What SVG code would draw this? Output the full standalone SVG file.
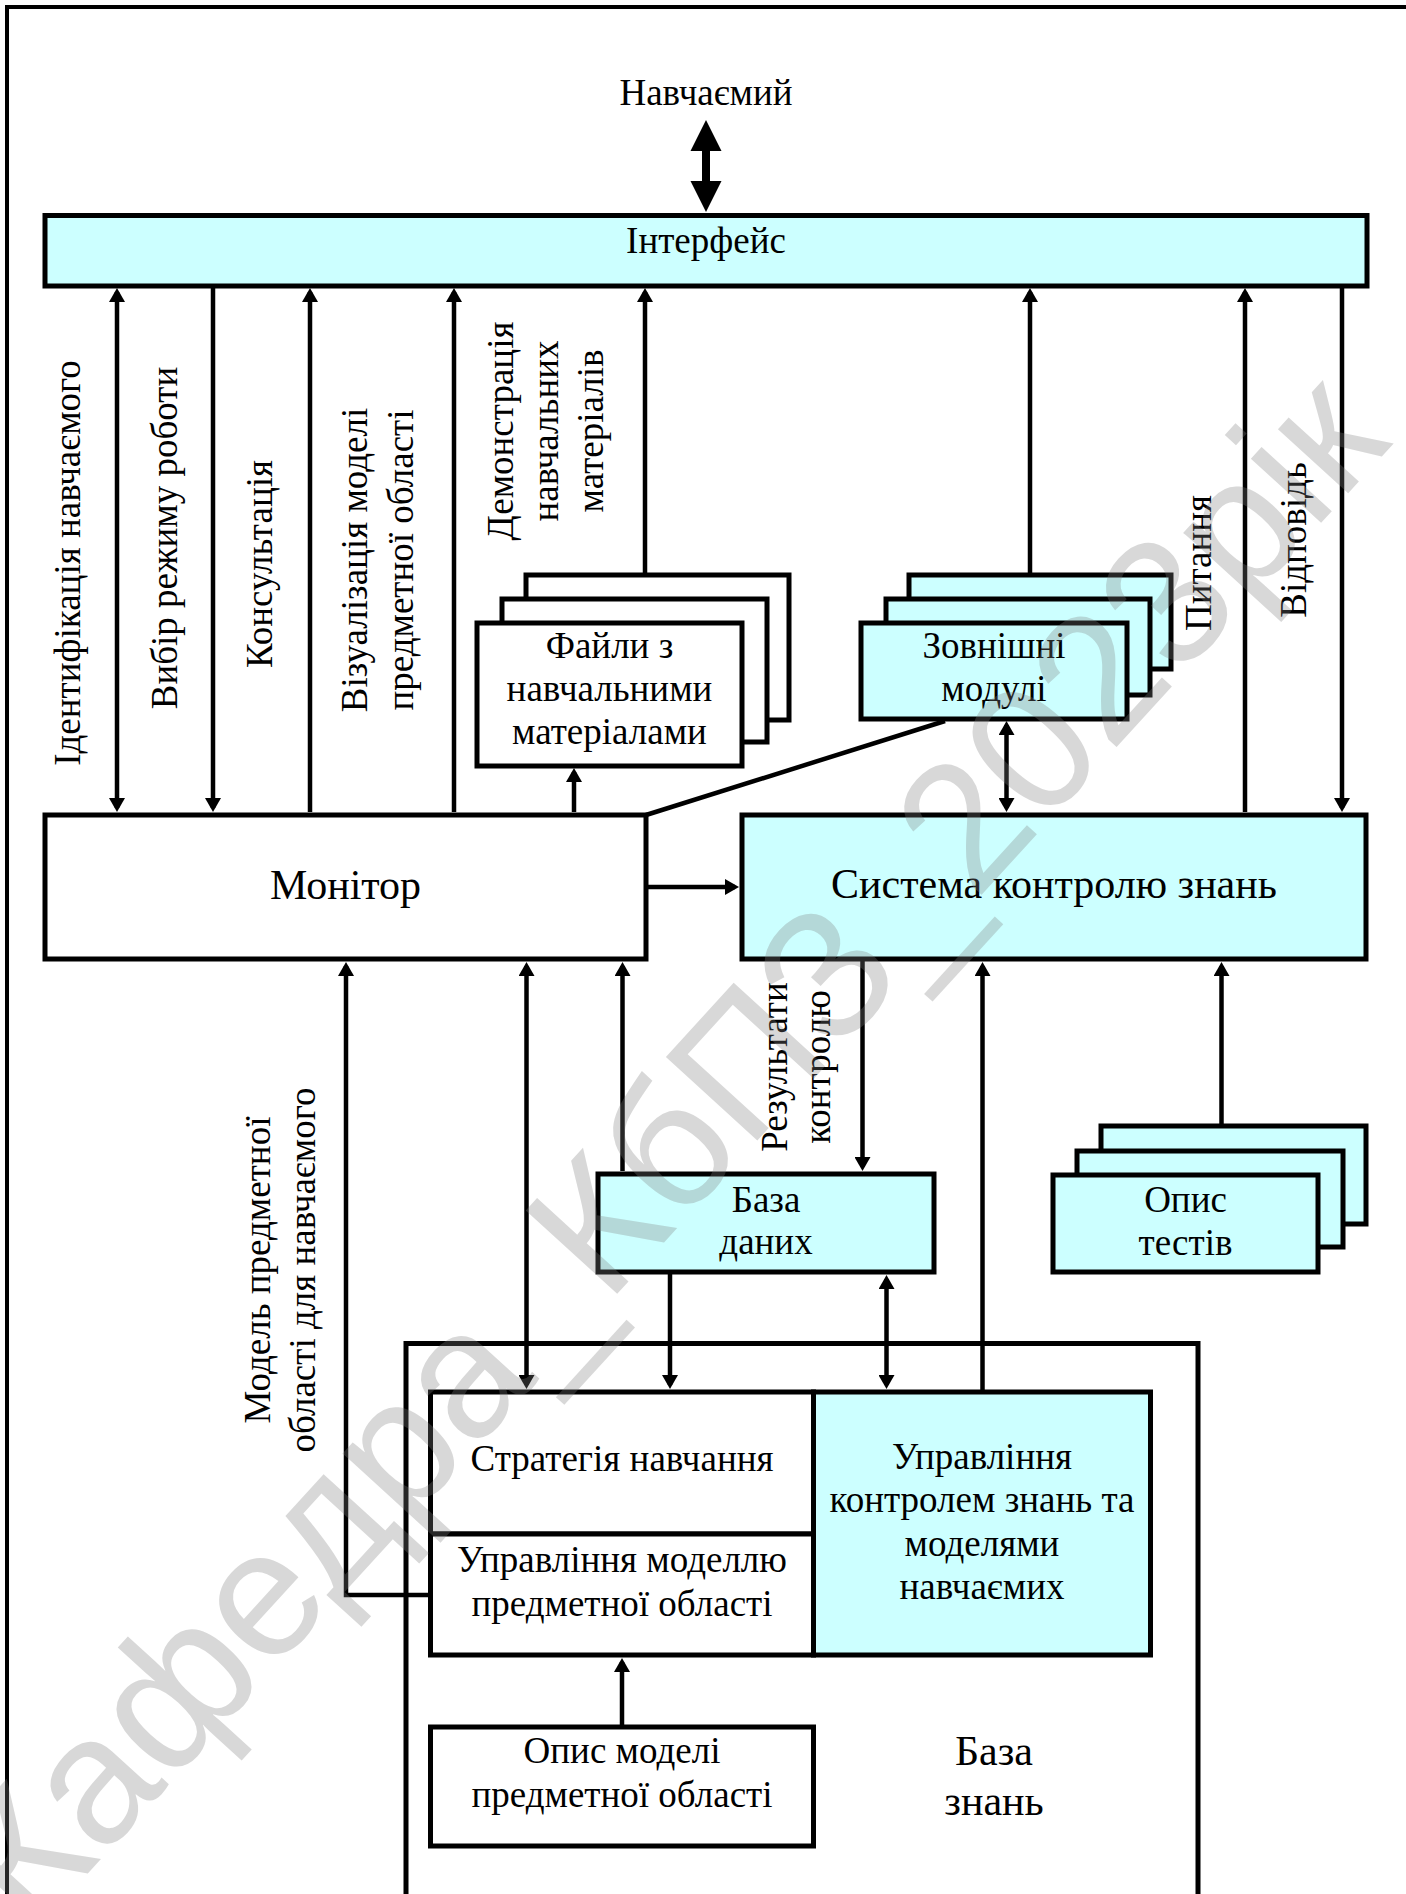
<svg xmlns="http://www.w3.org/2000/svg" width="1406" height="1894" viewBox="0 0 1406 1894">
<style>
.t{font-family:"Liberation Serif","Times New Roman",serif;font-size:37px;fill:#000;text-anchor:middle}
.big{font-size:42px}
.box{fill:#fff;stroke:#000;stroke-width:5}
.cy{fill:#ccffff;stroke:#000;stroke-width:5}
.ln{fill:none;stroke:#000;stroke-width:4.5}
.wm{font-family:"Liberation Sans",Arial,sans-serif;font-size:180px;fill:#808080;opacity:0.3;text-anchor:middle}
</style>
<defs>
<marker id="ah" markerUnits="userSpaceOnUse" markerWidth="16" markerHeight="16" viewBox="0 0 14 16" refX="10" refY="8" orient="auto-start-reverse">
<path d="M0,0 L14,8 L0,16 Z" fill="#000"/>
</marker>
</defs>
<rect width="1406" height="1894" fill="#fff"/>
<path d="M7,1894 V7 H1406" fill="none" stroke="#000" stroke-width="4"/>

<g id="learner"><text class="t" x="706" y="105">Навчаємий</text></g>
<g id="interface"><rect class="cy" x="45" y="215.5" width="1322" height="70.5"/><text class="t" x="706" y="253">Інтерфейс</text></g>
<g id="monitor"><rect class="box" x="45" y="815" width="601" height="144"/><text class="t big" x="345.5" y="899">Монітор</text></g>
<g id="skz"><rect class="cy" x="742" y="815" width="624" height="144"/><text class="t big" x="1054" y="898">Система контролю знань</text></g>
<g id="files">
<rect class="box" x="526" y="575" width="263" height="145"/>
<rect class="box" x="502" y="599" width="265" height="143"/>
<rect class="box" x="477" y="623" width="265" height="143"/>
<text class="t" x="609.5" y="658">Файли з</text>
<text class="t" x="609.5" y="701">навчальними</text>
<text class="t" x="609.5" y="744">матеріалами</text>
</g>
<g id="modules">
<rect class="cy" x="909" y="575" width="262" height="94"/>
<rect class="cy" x="886" y="599" width="264" height="96"/>
<rect class="cy" x="861" y="623" width="266" height="96"/>
<text class="t" x="994" y="658">Зовнішні</text>
<text class="t" x="994" y="701">модулі</text>
</g>
<g id="db"><rect class="cy" x="598" y="1174" width="336" height="98"/><text class="t" x="766" y="1212">База</text><text class="t" x="766" y="1254">даних</text></g>
<g id="tests">
<rect class="cy" x="1101" y="1126" width="265" height="98"/>
<rect class="cy" x="1077" y="1151" width="266" height="96"/>
<rect class="cy" x="1053" y="1175" width="265" height="97"/>
<text class="t" x="1185.5" y="1212">Опис</text>
<text class="t" x="1185.5" y="1255">тестів</text>
</g>
<g id="kb">
<rect x="406" y="1343.5" width="792" height="600" fill="none" stroke="#000" stroke-width="5"/>
<text class="t big" x="994" y="1765">База</text>
<text class="t big" x="994" y="1815">знань</text>
</g>
<g id="control"><rect class="cy" x="813.5" y="1392" width="337" height="263"/>
<text class="t" x="982" y="1469">Управління</text>
<text class="t" x="982" y="1512">контролем знань та</text>
<text class="t" x="982" y="1556">моделями</text>
<text class="t" x="982" y="1599">навчаємих</text>
</g>
<g id="strategy"><rect class="box" x="430.5" y="1392" width="383" height="142"/><text class="t" x="622" y="1471">Стратегія навчання</text></g>
<g id="modelmgmt"><rect class="box" x="430.5" y="1534" width="383" height="121"/><text class="t" x="622" y="1572">Управління моделлю</text><text class="t" x="622" y="1616">предметної області</text></g>
<g id="modeldesc"><rect class="box" x="430.5" y="1727" width="383" height="119"/><text class="t" x="622" y="1763">Опис моделі</text><text class="t" x="622" y="1807">предметної області</text></g>

<g id="connectors">
<polygon points="706,120 721.5,151 710,151 710,181 721.5,181 706,212 690.5,181 702,181 702,151 690.5,151" fill="#000"/>
<line class="ln" x1="117" y1="292" x2="117" y2="808" marker-start="url(#ah)" marker-end="url(#ah)"/>
<line class="ln" x1="213" y1="288" x2="213" y2="808" marker-end="url(#ah)"/>
<line class="ln" x1="310" y1="812" x2="310" y2="292" marker-end="url(#ah)"/>
<line class="ln" x1="454" y1="812" x2="454" y2="292" marker-end="url(#ah)"/>
<line class="ln" x1="645" y1="573" x2="645" y2="292" marker-end="url(#ah)"/>
<line class="ln" x1="1030" y1="573" x2="1030" y2="292" marker-end="url(#ah)"/>
<line class="ln" x1="1245" y1="812" x2="1245" y2="292" marker-end="url(#ah)"/>
<line class="ln" x1="1342" y1="288" x2="1342" y2="808" marker-end="url(#ah)"/>
<line class="ln" x1="574" y1="812" x2="574" y2="772" marker-end="url(#ah)"/>
<line class="ln" x1="1006.5" y1="725" x2="1006.5" y2="808" marker-start="url(#ah)" marker-end="url(#ah)"/>
<line class="ln" x1="646" y1="815" x2="945" y2="721"/>
<line class="ln" x1="648" y1="887" x2="735" y2="887" marker-end="url(#ah)"/>
<polyline class="ln" points="430,1595 346,1595 346,966" marker-end="url(#ah)"/>
<line class="ln" x1="526.5" y1="966" x2="526.5" y2="1385" marker-start="url(#ah)" marker-end="url(#ah)"/>
<line class="ln" x1="622.5" y1="1171" x2="622.5" y2="966" marker-end="url(#ah)"/>
<line class="ln" x1="670" y1="1274" x2="670" y2="1385" marker-end="url(#ah)"/>
<line class="ln" x1="886.5" y1="1279" x2="886.5" y2="1385" marker-start="url(#ah)" marker-end="url(#ah)"/>
<line class="ln" x1="982.5" y1="1390" x2="982.5" y2="966" marker-end="url(#ah)"/>
<line class="ln" x1="862.5" y1="961" x2="862.5" y2="1167" marker-end="url(#ah)"/>
<line class="ln" x1="1221.5" y1="1124" x2="1221.5" y2="966" marker-end="url(#ah)"/>
<line class="ln" x1="622" y1="1725" x2="622" y2="1662" marker-end="url(#ah)"/>
</g>

<g id="labels">
<text class="t" transform="translate(80,563) rotate(-90)">Ідентифікація навчаємого</text>
<text class="t" transform="translate(177,538) rotate(-90)">Вибір режиму роботи</text>
<text class="t" transform="translate(272,564) rotate(-90)">Консультація</text>
<text class="t" transform="translate(367,560) rotate(-90)">Візуалізація моделі<tspan x="0" dy="46">предметної області</tspan></text>
<text class="t" transform="translate(513,431) rotate(-90)">Демонстрація<tspan x="0" dy="45">навчальних</tspan><tspan x="0" dy="45">матеріалів</tspan></text>
<text class="t" transform="translate(1210.5,563) rotate(-90)">Питання</text>
<text class="t" transform="translate(1305.5,540) rotate(-90)">Відповідь</text>
<text class="t" transform="translate(787,1067) rotate(-90)">Результати<tspan x="0" dy="43">контролю</tspan></text>
<text class="t" transform="translate(270,1270) rotate(-90)">Модель предметної<tspan x="0" dy="45">області для навчаємого</tspan></text>
</g>
<text class="wm" transform="translate(712,1190) rotate(-47.6)">Кафедра_КбПЗ_2023рік</text>
</svg>
